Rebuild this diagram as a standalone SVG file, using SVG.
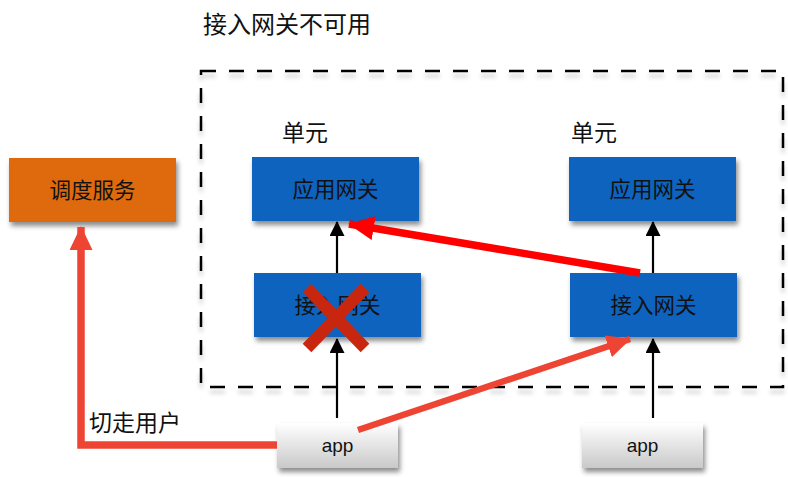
<svg xmlns="http://www.w3.org/2000/svg" width="788" height="477" viewBox="0 0 788 477">
<defs>
<filter id="sh" x="-10%" y="-10%" width="130%" height="140%">
<feDropShadow dx="2" dy="4" stdDeviation="2.5" flood-color="#000" flood-opacity="0.45"/>
</filter>
<filter id="dsh" x="-5%" y="-5%" width="110%" height="110%">
<feDropShadow dx="0" dy="5" stdDeviation="2" flood-color="#000" flood-opacity="0.2"/>
</filter>
<linearGradient id="appg" x1="0" y1="0" x2="0" y2="1">
<stop offset="0" stop-color="#ffffff"/>
<stop offset="1" stop-color="#c9c9c9"/>
</linearGradient>
<marker id="ab" markerWidth="15" markerHeight="15" refX="14" refY="7.5" orient="auto" markerUnits="userSpaceOnUse" viewBox="0 0 15 15">
<path d="M0,0 L15,7.5 L0,15 Z" fill="#000"/>
</marker>
<marker id="ar" markerWidth="26" markerHeight="24" refX="25" refY="12" orient="auto" markerUnits="userSpaceOnUse" viewBox="0 0 26 24">
<path d="M0,0 L26,12 L0,24 Z" fill="#FF0000"/>
</marker>
<marker id="ao" markerWidth="24" markerHeight="23" refX="23" refY="11.5" orient="auto" markerUnits="userSpaceOnUse" viewBox="0 0 24 23">
<path d="M0,0 L24,11.5 L0,23 Z" fill="#EE4433"/>
</marker>
</defs>
<style>
.t{font-family:"Noto Sans CJK SC","Liberation Sans",sans-serif;font-size:23px;fill:#111;}
.h{font-size:24px;}
.b{font-size:21.5px;}
.c{text-anchor:middle;}
.a{font-family:"Liberation Sans","Noto Sans",sans-serif;font-size:19px;}
.blue{fill:#0A63BE;}
.blk{stroke:#000;stroke-width:2.2;fill:none;}
</style>
<rect width="788" height="477" fill="#fff"/>
<text class="t h" x="203" y="33">接入网关不可用</text>
<rect x="201" y="71" width="582" height="316" fill="none" stroke="#000" stroke-width="2.5" stroke-dasharray="15,13" filter="url(#dsh)"/>
<text class="t" x="282" y="141">单元</text>
<text class="t" x="571" y="141">单元</text>
<g id="dispatch"><rect x="9" y="158" width="167" height="64" fill="#DE6A10" filter="url(#sh)"/><text class="t b c" x="92.5" y="198">调度服务</text></g>
<g id="appgw1"><rect class="blue" x="252" y="157" width="167" height="64" filter="url(#sh)"/><text class="t b c" x="335.5" y="197">应用网关</text></g>
<g id="accgw1"><rect class="blue" x="254" y="273" width="167" height="64" filter="url(#sh)"/><text class="t b c" x="337.5" y="313">接入网关</text></g>
<g id="appgw2"><rect class="blue" x="569" y="157" width="167" height="64" filter="url(#sh)"/><text class="t b c" x="652.5" y="197">应用网关</text></g>
<g id="accgw2"><rect class="blue" x="570" y="273" width="167" height="64" filter="url(#sh)"/><text class="t b c" x="653.5" y="313">接入网关</text></g>
<g id="app1"><rect x="277" y="423" width="121" height="45" fill="url(#appg)" filter="url(#sh)"/><text class="t a c" x="337.5" y="452">app</text></g>
<g id="app2"><rect x="582" y="423" width="121" height="45" fill="url(#appg)" filter="url(#sh)"/><text class="t a c" x="642.5" y="452">app</text></g>
<g id="connectors">
<line class="blk" x1="337" y1="273" x2="337" y2="222" marker-end="url(#ab)"/>
<line class="blk" x1="337" y1="418" x2="337" y2="339" marker-end="url(#ab)"/>
<line class="blk" x1="653" y1="273" x2="653" y2="222" marker-end="url(#ab)"/>
<line class="blk" x1="653" y1="418" x2="653" y2="339" marker-end="url(#ab)"/>
<line x1="640" y1="273" x2="349" y2="224" stroke="#FF0000" stroke-width="7.5" marker-end="url(#ar)"/>
<line x1="358" y1="430" x2="630" y2="339" stroke="#EE4433" stroke-width="6.5" marker-end="url(#ao)"/>
<polyline points="277,445 81,445 81,227" fill="none" stroke="#EE4433" stroke-width="7.5" marker-end="url(#ao)"/>
</g>
<text class="t" x="89" y="431">切走用户</text>
<g id="cross" stroke="#C8260E" stroke-width="12">
<line x1="307" y1="288" x2="365" y2="348"/>
<line x1="365" y1="288" x2="307" y2="348"/>
</g>
</svg>
